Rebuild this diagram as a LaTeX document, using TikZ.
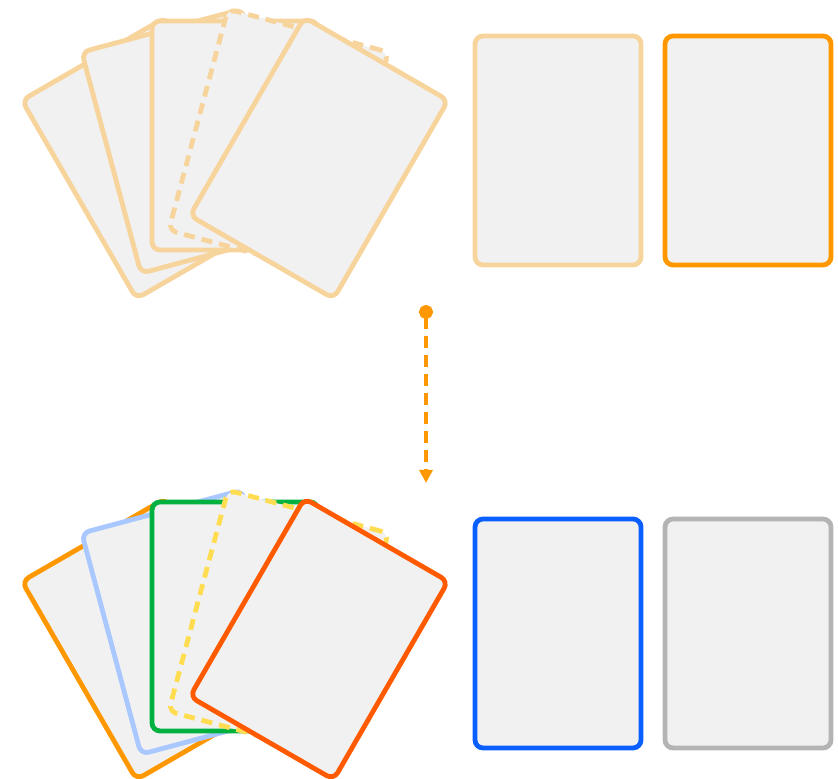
\documentclass[tikz,border=0pt]{standalone}
\usetikzlibrary{arrows.meta}
\definecolor{cardfill}{HTML}{F1F1F1}
\definecolor{lorange}{HTML}{F8D49D}
\definecolor{orng}{HTML}{FF9800}
\definecolor{lblue}{HTML}{A9C8FF}
\definecolor{grn}{HTML}{00B140}
\definecolor{ylw}{HTML}{FFDC50}
\definecolor{redor}{HTML}{FF5A00}
\definecolor{blu}{HTML}{0A60FF}
\definecolor{gry}{HTML}{B4B4B4}
\begin{document}
\begin{tikzpicture}[x=1pt,y=1pt,
  card/.style={shape=rectangle, draw=#1, fill=cardfill, line width=4.8pt, rounded corners=8pt,
    minimum width=166pt, minimum height=229pt, inner sep=0pt},
  dashcard/.style={card=#1, dash pattern=on 11pt off 7pt}]
\useasboundingbox (0,0) rectangle (838,779);
\coordinate (topPivot) at (235,475.5);
\coordinate (botPivot) at (235,-5.5);
% top fan
\node[card=lorange, rotate=30] (t1) at ([shift={(120:168)}]topPivot) {};
\node[card=lorange, rotate=15] (t2) at ([shift={(105:168)}]topPivot) {};
\node[card=lorange] (t3) at ([shift={(90:168)}]topPivot) {};
\node[dashcard=lorange, rotate=-15] (t4) at ([shift={(75:168)}]topPivot) {};
\node[card=lorange, rotate=-30] (t5) at ([shift={(60:168)}]topPivot) {};
% top singles
\node[card=lorange] (s1) at (558,628.5) {};
\node[card=orng] (s2) at (748,628.5) {};
% bottom fan
\node[card=orng, rotate=30] (b1) at ([shift={(120:168)}]botPivot) {};
\node[card=lblue, rotate=15] (b2) at ([shift={(105:168)}]botPivot) {};
\node[card=grn] (b3) at ([shift={(90:168)}]botPivot) {};
\node[dashcard=ylw, rotate=-15] (b4) at ([shift={(75:168)}]botPivot) {};
\node[card=redor, rotate=-30] (b5) at ([shift={(60:168)}]botPivot) {};
% bottom singles
\node[card=blu] (s3) at (558,145.5) {};
\node[card=gry] (s4) at (748,145.5) {};
% arrow
\coordinate (arrowStart) at (426,474);
\coordinate (arrowEnd) at (426,296);
\draw[orng, line width=4.5pt, dash pattern=on 12pt off 7pt,
  {Circle[length=14pt]}-{Triangle[length=13pt,width=13pt]}] (arrowStart) -- (arrowEnd);
\end{tikzpicture}
\end{document}
